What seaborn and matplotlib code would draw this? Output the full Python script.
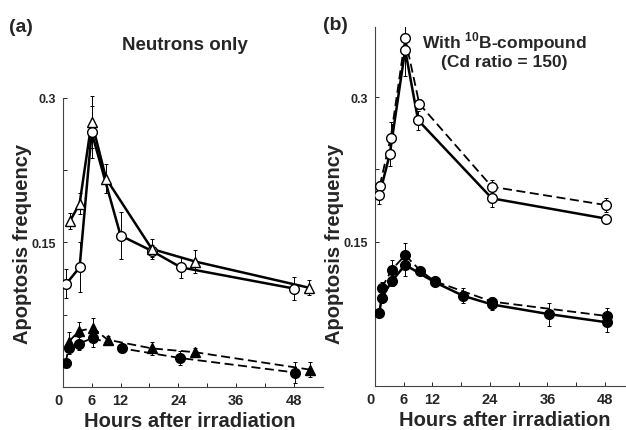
import numpy as np
import pandas as pd
import matplotlib
matplotlib.use("Agg")
import matplotlib.pyplot as plt
import seaborn as sns

# Panel (a): neutrons only
a_open_tri_x = [1.5, 3.5, 6, 9, 18.5, 27.5, 51]
a_open_tri_y = [0.172, 0.190, 0.275, 0.216, 0.143, 0.130, 0.103]
a_open_tri_err = [0.008, 0.011, 0.027, 0.015, 0.010, 0.012, 0.008]

a_open_circ_x = [0.75, 3.5, 6, 12, 18.5, 24.5, 48]
a_open_circ_y = [0.107, 0.124, 0.264, 0.157, 0.141, 0.124, 0.102]
a_open_circ_err = [0.015, 0.026, 0.027, 0.024, 0.006, 0.011, 0.012]

a_fill_tri_x = [1.3, 3.3, 6.3, 9.3, 18.5, 27.5, 51.3]
a_fill_tri_y = [0.047, 0.058, 0.061, 0.049, 0.040, 0.036, 0.018]
a_fill_tri_err = [0.010, 0.009, 0.011, 0.004, 0.007, 0.004, 0.008]

a_fill_circ_x = [0.6, 1.2, 3.4, 6.3, 12.3, 24.4, 48.2]
a_fill_circ_y = [0.025, 0.040, 0.045, 0.051, 0.040, 0.030, 0.015]
a_fill_circ_err = [0.0, 0.006, 0.007, 0.010, 0.004, 0.007, 0.011]

# Panel (b): with 10B-compound
b_open_solid_x = [0.9, 3.1, 6.3, 9.0, 24.4, 48.2]
b_open_solid_y = [0.198, 0.241, 0.349, 0.276, 0.195, 0.174]
b_open_solid_err = [0.009, 0.013, 0.027, 0.010, 0.009, 0.003]

b_open_dash_x = [1.0, 3.3, 6.3, 9.25, 24.4, 48.2]
b_open_dash_y = [0.208, 0.258, 0.361, 0.293, 0.207, 0.188]
b_open_dash_err = [0.005, 0.016, 0.022, 0.005, 0.007, 0.007]

b_fill_solid_x = [0.9, 1.4, 3.5, 6.3, 12.5, 18.4, 24.4, 36.3, 48.4]
b_fill_solid_y = [0.076, 0.092, 0.109, 0.126, 0.108, 0.094, 0.085, 0.075, 0.0665]
b_fill_solid_err = [0.0, 0.003, 0.005, 0.012, 0.004, 0.008, 0.006, 0.012, 0.010]

b_fill_dash_x = [1.4, 3.5, 6.3, 9.5, 12.5, 24.4, 48.4]
b_fill_dash_y = [0.102, 0.121, 0.136, 0.120, 0.109, 0.088, 0.073]
b_fill_dash_err = [0.006, 0.010, 0.013, 0.003, 0.003, 0.005, 0.008]

x_ticks = [0, 6, 12, 24, 36, 48]
x_minor = [18, 30, 42]
y_ticks = [0.15, 0.3]
y_minor = [0.075, 0.225]

sns.set_style("ticks")
plt.rcParams['font.family'] = ['Liberation Sans', 'DejaVu Sans']
plt.rcParams['font.weight'] = 'bold'
plt.rcParams['mathtext.fontset'] = 'custom'
plt.rcParams['mathtext.rm'] = 'Liberation Sans:bold'
plt.rcParams['mathtext.bf'] = 'Liberation Sans:bold'


def draw_series(ax, x, y, err, marker, filled, dashed, ms):
    df = pd.DataFrame({'x': x, 'y': y})
    face = 'black' if filled else 'white'
    sns.lineplot(data=df, x='x', y='y', ax=ax, color='black',
                 lw=1.3 if dashed else 1.8,
                 linestyle='--' if dashed else '-',
                 dashes=False, zorder=2, legend=False)
    if dashed:
        ax.lines[-1].set_dashes((5, 2.5))
    ax.errorbar(x, y, yerr=err, fmt='none', ecolor='black', elinewidth=0.7,
                capsize=1.5, capthick=0.7, zorder=1)
    ax.plot(x, y, ls='none', marker=marker, ms=ms, mfc=face, mec='black',
            mew=1.0, zorder=3)


def style_axis(ax, xmax, ytop_spine, xlab_x, ylab_x):
    ax.set_xlim(0, xmax)
    ax.set_ylim(0, 0.373)
    ax.spines['top'].set_visible(False)
    ax.spines['right'].set_visible(False)
    ax.spines['left'].set_bounds(0, ytop_spine)
    for s in ['left', 'bottom']:
        ax.spines[s].set_linewidth(0.8)
        ax.spines[s].set_color('#444444')
    ax.set_xticks(x_ticks)
    ax.set_xticks(x_minor, minor=True)
    ax.set_yticks(y_ticks)
    ax.set_yticks(y_minor, minor=True)
    ax.set_xticklabels([str(t) for t in x_ticks])
    ax.set_yticklabels(['0.15', '0.3'])
    ax.tick_params(which='both', direction='in', length=3, width=0.7)
    ax.tick_params(axis='x', labelsize=10.5, pad=4)
    ax.tick_params(axis='y', labelsize=9, pad=5)
    ax.get_xticklabels()[0].set_ha('right')
    ax.set_xlabel('Hours after irradiation', fontsize=14.5, fontweight='bold')
    ax.set_ylabel('Apoptosis frequency', fontsize=14.5, fontweight='bold')
    ax.xaxis.set_label_coords(xlab_x, -0.066)
    ax.yaxis.set_label_coords(ylab_x, 0.40)


fig = plt.figure(figsize=(6.26, 4.31), dpi=100)
ax1 = fig.add_axes([0.1002, 0.0998, 0.4158, 0.835])
ax2 = fig.add_axes([0.599, 0.101, 0.401, 0.835])

# (a)
draw_series(ax1, a_open_circ_x, a_open_circ_y, a_open_circ_err, 'o', False, False, 7)
draw_series(ax1, a_open_tri_x, a_open_tri_y, a_open_tri_err, '^', False, False, 7.5)
draw_series(ax1, a_fill_circ_x, a_fill_circ_y, a_fill_circ_err, 'o', True, True, 7)
draw_series(ax1, a_fill_tri_x, a_fill_tri_y, a_fill_tri_err, '^', True, True, 7)
style_axis(ax1, 54, 0.3, 0.489, -0.118)

# (b)
draw_series(ax2, b_open_dash_x, b_open_dash_y, b_open_dash_err, 'o', False, True, 7)
draw_series(ax2, b_open_solid_x, b_open_solid_y, b_open_solid_err, 'o', False, False, 7)
draw_series(ax2, b_fill_dash_x, b_fill_dash_y, b_fill_dash_err, 'o', True, True, 7)
draw_series(ax2, b_fill_solid_x, b_fill_solid_y, b_fill_solid_err, 'o', True, False, 7)
style_axis(ax2, 52.4, 0.373, 0.518, -0.122)

fig.text(21 / 626, 1 - 27 / 431, '(a)', fontsize=14, fontweight='bold',
         ha='center', va='center')
fig.text(335 / 626, 1 - 25 / 431, '(b)', fontsize=14, fontweight='bold',
         ha='center', va='center')
fig.text(185 / 626, 1 - 45 / 431, 'Neutrons only', fontsize=13.5,
         fontweight='bold', ha='center', va='center')
fig.text(504 / 626, 1 - 42 / 431, r'With $^{\mathbf{10}}$B-compound',
         fontsize=12.5, fontweight='bold', ha='center', va='center')
fig.text(504 / 626, 1 - 63 / 431, '(Cd ratio = 150)', fontsize=12.5,
         fontweight='bold', ha='center', va='center')

fig.savefig('out.png', dpi=100)
